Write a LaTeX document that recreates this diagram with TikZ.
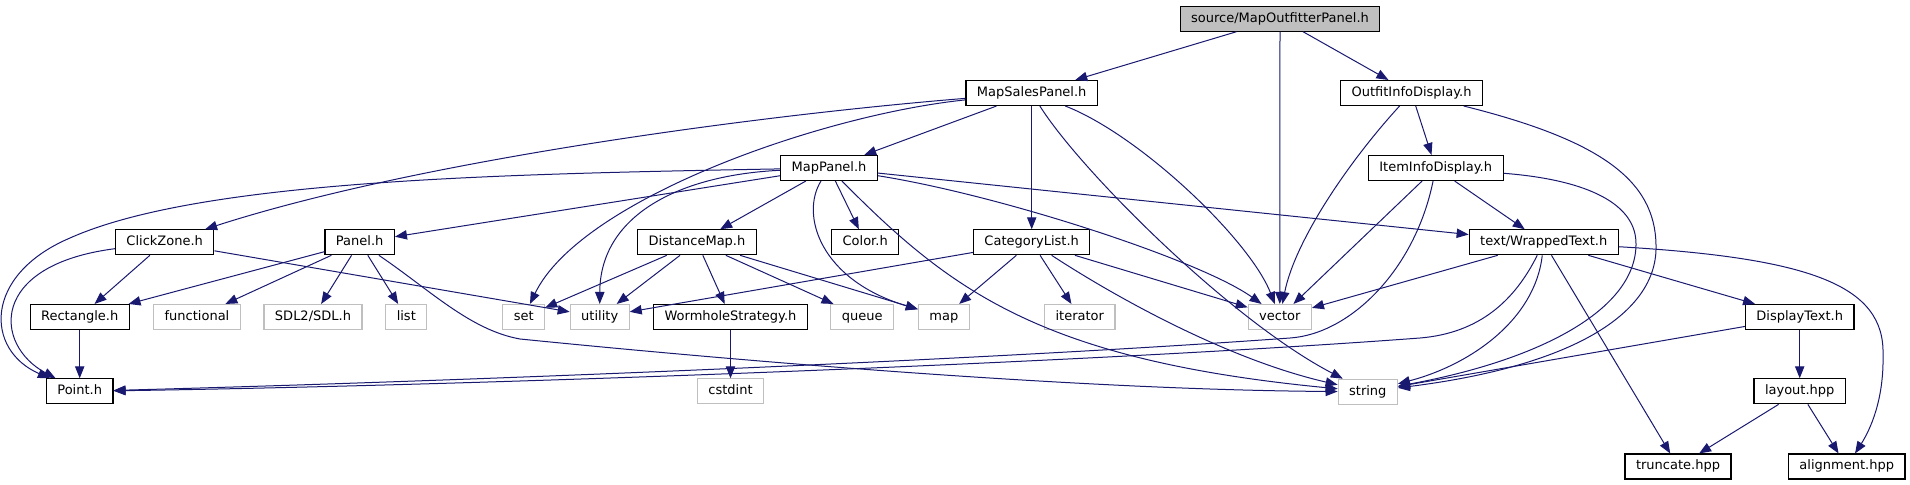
\documentclass[tikz,border=0pt]{standalone}
\usepackage{fontspec}
\setmainfont{DejaVu Sans}
\usepackage{xcolor}
\usetikzlibrary{positioning, arrows.meta}
\definecolor{edgeblue}{HTML}{191970}
\definecolor{sysgray}{HTML}{BFBFBF}
\definecolor{rootgray}{HTML}{BFBFBF}

\begin{document}
\begin{tikzpicture}[x=0.75pt, y=-0.75pt,
      every node/.style={font=\fontsize{9.75}{11}\selectfont},
      box/.style={draw=black, fill=white, line width=0.8pt, inner xsep=8.25pt, inner ysep=0pt,
        minimum height=18.75pt, text height=7.4pt, text depth=2.3pt},
      sysbox/.style={box, draw=sysgray},
      rootbox/.style={box, fill=rootgray},
      dep/.style={draw=edgeblue, line width=0.75pt, -{Triangle[length=9pt, width=7pt]}}]
    \useasboundingbox (0,0) rectangle (1910,485);
    \node[rootbox] (root) at (1280,18.7) {source/MapOutfitterPanel.h};
    \node[box] (mapsales) at (1031.7,93) {MapSalesPanel.h};
    \node[box] (outfit) at (1411.5,93) {OutfitInfoDisplay.h};
    \node[box] (mappanel) at (829,168) {MapPanel.h};
    \node[box] (iteminfo) at (1435.7,168) {ItemInfoDisplay.h};
    \node[box] (clickzone) at (164.7,242.3) {ClickZone.h};
    \node[box] (panel) at (359.7,242.3) {Panel.h};
    \node[box] (distmap) at (697,242.3) {DistanceMap.h};
    \node[box] (color) at (865.2,242.3) {Color.h};
    \node[box] (catlist) at (1031.7,242.3) {CategoryList.h};
    \node[box] (wrapped) at (1543.7,242.3) {text/WrappedText.h};
    \node[box] (rect) at (79.7,317) {Rectangle.h};
    \node[sysbox] (functional) at (197,317) {functional};
    \node[sysbox] (sdl) at (313,317) {SDL2/SDL.h};
    \node[sysbox] (list) at (406.3,317) {list};
    \node[sysbox] (set) at (523.7,317) {set};
    \node[sysbox] (utility) at (599.7,317) {utility};
    \node[box] (wormhole) at (730.5,317) {WormholeStrategy.h};
    \node[sysbox] (queue) at (862.3,317) {queue};
    \node[sysbox] (map) at (943.8,317) {map};
    \node[sysbox] (iterator) at (1079.8,317) {iterator};
    \node[sysbox] (vector) at (1279.8,317) {vector};
    \node[box] (disptext) at (1799.7,317) {DisplayText.h};
    \node[box, below=36.2pt of rect] (point) {Point.h};
    \node[sysbox, below=36.2pt of wormhole] (cstdint) {cstdint};
    \node[sysbox] (string) at (1367.8,391.7) {string};
    \node[box, below=36.2pt of disptext] (layout) {layout.hpp};
    \node[box] (truncate) at (1678,466.5) {truncate.hpp};
    \node[box] (alignment) at (1846.7,466.5) {alignment.hpp};

    \draw[dep] (root) -- (mapsales);
    \draw[dep] (root) -- (vector);
    \draw[dep] (root) -- (outfit);

    \draw[dep] (mapsales) .. controls (760,115) and (420,160) .. (clickzone);
    \draw[dep] (mapsales) .. controls (820,115) and (580,200) .. (set);
    \draw[dep] (mapsales) -- (mappanel);
    \draw[dep] (mapsales) -- (catlist);
    \draw[dep] (mapsales) .. controls (1080,170) and (1230,320) .. (string);
    \draw[dep] (mapsales) .. controls (1140,135) and (1250,240) .. (vector);

    \draw[dep] (mappanel) .. controls (500,174) and (200,180) .. (70,238)
      .. controls (-17,275) and (-15,350) .. (point);
    \draw[dep] (mappanel) .. controls (680,175) and (600,215) .. (utility);
    \draw[dep] (mappanel) -- (panel);
    \draw[dep] (mappanel) -- (distmap);
    \draw[dep] (mappanel) -- (color);
    \draw[dep] (mappanel) .. controls (800,215) and (820,280) .. (map);
    \draw[dep] (mappanel) .. controls (950,290) and (1040,360) .. (string);
    \draw[dep] (mappanel) .. controls (1000,195) and (1200,260) .. (vector);
    \draw[dep] (mappanel) -- (wrapped);

    \draw[dep] (outfit) .. controls (1350,160) and (1295,240) .. (vector);
    \draw[dep] (outfit) -- (iteminfo);
    \draw[dep] (outfit) .. controls (1600,140) and (1655,180) .. (1656,245)
      .. controls (1658,310) and (1580,365) .. (string);

    \draw[dep] (iteminfo) -- (vector);
    \draw[dep] (iteminfo) .. controls (1415,270) and (1350,334) .. (1290,338)
      .. controls (1000,359) and (500,380) .. (point);
    \draw[dep] (iteminfo) -- (wrapped);
    \draw[dep] (iteminfo) .. controls (1590,180) and (1637,205) .. (1636,245)
      .. controls (1635,310) and (1540,360) .. (string);

    \draw[dep] (clickzone) -- (rect);
    \draw[dep] (clickzone) .. controls (-12,265) and (-6,345) .. (point);
    \draw[dep] (clickzone) -- (utility);

    \draw[dep] (panel) -- (rect);
    \draw[dep] (panel) -- (functional);
    \draw[dep] (panel) -- (sdl);
    \draw[dep] (panel) -- (list);
    \draw[dep] (panel) .. controls (430,290) and (470,330) .. (520,339)
      .. controls (780,365) and (1100,390) .. (string);

    \draw[dep] (distmap) -- (set);
    \draw[dep] (distmap) -- (utility);
    \draw[dep] (distmap) -- (wormhole);
    \draw[dep] (distmap) -- (queue);
    \draw[dep] (distmap) -- (map);

    \draw[dep] (catlist) -- (utility);
    \draw[dep] (catlist) -- (map);
    \draw[dep] (catlist) -- (iterator);
    \draw[dep] (catlist) -- (vector);
    \draw[dep] (catlist) .. controls (1120,300) and (1230,360) .. (string);

    \draw[dep] (wrapped) -- (vector);
    \draw[dep] (wrapped) .. controls (1515,300) and (1480,333) .. (1420,338)
      .. controls (1100,362) and (500,385) .. (point);
    \draw[dep] (wrapped) .. controls (1535,320) and (1470,365) .. (string);
    \draw[dep] (wrapped) -- (truncate);
    \draw[dep] (wrapped) -- (disptext);
    \draw[dep] (wrapped) .. controls (1810,258) and (1885,285) .. (1883,355)
      .. controls (1884,400) and (1870,430) .. (alignment);

    \draw[dep] (rect) -- (point);
    \draw[dep] (wormhole) -- (cstdint);
    \draw[dep] (disptext) -- (string);
    \draw[dep] (disptext) -- (layout);
    \draw[dep] (layout) -- (truncate);
    \draw[dep] (layout) -- (alignment);
  \end{tikzpicture}
\end{document}
